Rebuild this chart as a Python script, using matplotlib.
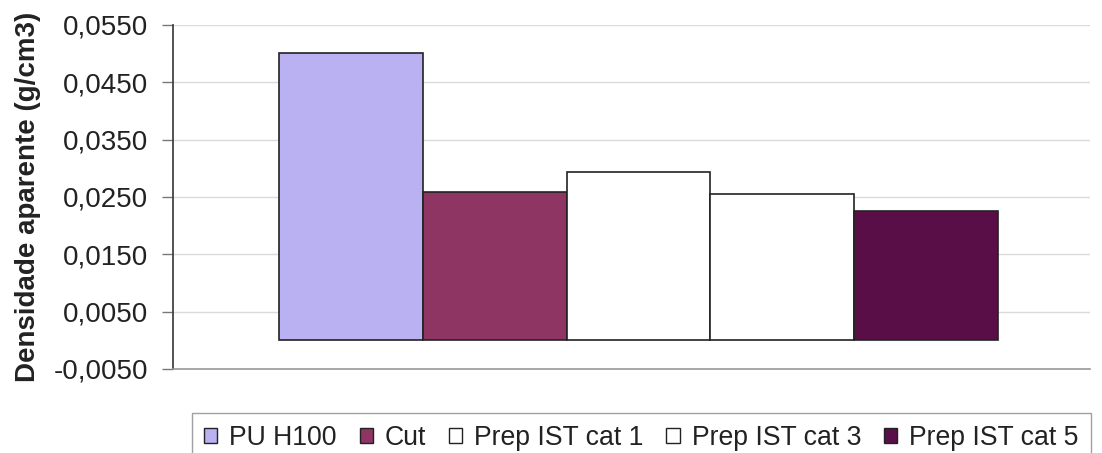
import matplotlib
matplotlib.use("Agg")
import matplotlib.pyplot as plt
from matplotlib.ticker import FixedLocator, FuncFormatter
from matplotlib.patches import Patch

plt.rcParams['font.family'] = ['Liberation Sans', 'DejaVu Sans']

series = ["PU H100", "Cut", "Prep IST cat 1", "Prep IST cat 3", "Prep IST cat 5"]
values = [0.0502, 0.0258, 0.0294, 0.0255, 0.0226]
colors = ["#B9B1F1", "#8E3563", "#FFFFFF", "#FFFFFF", "#590E47"]
yticks = [-0.005, 0.005, 0.015, 0.025, 0.035, 0.045, 0.055]

fig = plt.figure(figsize=(11.02, 4.53), dpi=100)
ax = fig.add_axes([173 / 1102, 1 - 369 / 453, (1090 - 173) / 1102, (369 - 25) / 453])

positions = list(range(len(series)))
ax.bar(positions, values, width=1.0, color=colors, edgecolor="#222222",
       linewidth=1.2, zorder=3)

ax.set_ylim(-0.005, 0.055)
ax.set_xlim(-1.237, 5.14)
ax.yaxis.set_major_locator(FixedLocator(yticks))
ax.yaxis.set_major_formatter(FuncFormatter(lambda v, p: f"{v:.4f}".replace(".", ",")))
ax.set_xticks([])
ax.grid(axis="y", color="#DADADA", linewidth=1.0, zorder=0)

for side in ("top", "right"):
    ax.spines[side].set_visible(False)
ax.spines["left"].set_color("#444444")
ax.spines["left"].set_linewidth(1.3)
ax.spines["bottom"].set_color("#999999")
ax.spines["bottom"].set_linewidth(1.2)

ax.tick_params(axis="y", direction="out", length=8, width=1.0, color="#777777",
               labelsize=20, labelcolor="#222222", pad=10)
ax.set_ylabel("Densidade aparente (g/cm3)", fontsize=20, fontweight="bold",
              color="#222222", labelpad=9)

handles = [Patch(facecolor=c, edgecolor="#222222", linewidth=1.0) for c in colors]
leg = fig.legend(handles, series, loc="upper left",
                 bbox_to_anchor=(192 / 1102, 1 - 413 / 453),
                 ncol=5, fontsize=19.2, frameon=True, fancybox=False,
                 handlelength=0.5, handleheight=0.5, handletextpad=0.45,
                 columnspacing=0.85, borderpad=0.45, borderaxespad=0)
leg.get_frame().set_edgecolor("#888888")
leg.get_frame().set_linewidth(1.0)
for t in leg.get_texts():
    t.set_color("#222222")

fig.savefig("out.png", dpi=100, facecolor="white")
